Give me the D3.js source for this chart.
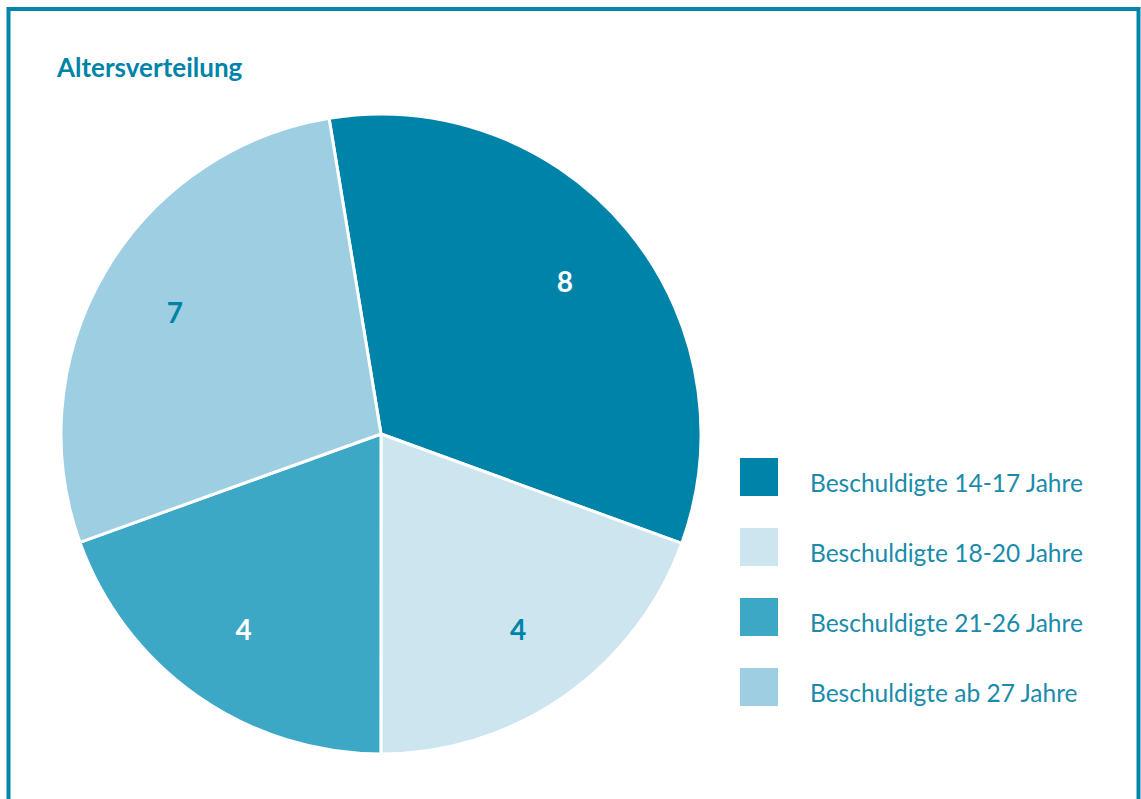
<!DOCTYPE html>
<html>
<head>
<meta charset="utf-8">
<script src="https://cdn.jsdelivr.net/npm/d3@7"></script>
<style>
  body{margin:0;background:#fff;}
  svg{display:block;}
  .label{font-family:Lato,"Open Sans",sans-serif;font-weight:700;font-size:28px;}
  .legend text{font-family:Lato,"Open Sans",sans-serif;font-size:24.5px;fill:#1a8bab;}
</style>
</head>
<body>
<svg id="chart" width="1141" height="799"></svg>
<script>
// data
const categories=["Beschuldigte 14-17 Jahre","Beschuldigte 18-20 Jahre","Beschuldigte 21-26 Jahre","Beschuldigte ab 27 Jahre"];
const counts=[8,4,4,7];
// slice sizes as drawn in the source graphic (percent of circle)
const shares=[33.15,19.45,19.5,27.9];
const colors=["#0083a9","#cde5ef","#3da8c6","#9ecee1"];
const labelColors=["#ffffff","#0083a9","#ffffff","#0083a9"];

const svg=d3.select("#chart");

// frame
svg.append("rect")
  .attr("x",8.5).attr("y",9).attr("width",1130).attr("height",830)
  .attr("fill","none").attr("stroke","#0086a8").attr("stroke-width",4);

svg.append("text")
  .attr("x",57).attr("y",77)
  .style("font-family","Lato,'Open Sans',sans-serif")
  .style("font-weight","700").style("font-size","26px")
  .attr("fill","#0083a9")
  .text("Altersverteilung");

const cx=381,cy=434,r=320;
const rows=categories.map((c,i)=>({cat:c,count:counts[i],share:shares[i],i}));

const a0=-9.34*Math.PI/180;
const pie=d3.pie().value(d=>d.share).sort(null).startAngle(a0).endAngle(a0+2*Math.PI);
const arc=d3.arc().innerRadius(0).outerRadius(r);
const labelArc=d3.arc().innerRadius(239).outerRadius(239);

const g=svg.append("g").attr("transform",`translate(${cx},${cy})`);
const arcs=pie(rows);

g.selectAll("path").data(arcs).join("path")
  .attr("d",arc)
  .attr("fill",d=>colors[d.data.i])
  .attr("stroke","#fff").attr("stroke-width",3).attr("stroke-linejoin","round");

g.selectAll("text.label").data(arcs).join("text")
  .attr("class","label")
  .attr("transform",d=>`translate(${labelArc.centroid(d)})`)
  .attr("text-anchor","middle").attr("dy","0.36em")
  .attr("fill",d=>labelColors[d.data.i])
  .text(d=>d.data.count);

// legend
const ly=d3.scaleBand().domain(categories).range([458,738]);
const leg=svg.append("g").attr("class","legend");
const item=leg.selectAll("g").data(rows).join("g")
  .attr("transform",d=>`translate(740,${ly(d.cat)})`);
item.append("rect").attr("width",38).attr("height",38).attr("fill",d=>colors[d.i]);
item.append("text").attr("x",70).attr("y",34).text(d=>d.cat);
</script>
</body>
</html>
